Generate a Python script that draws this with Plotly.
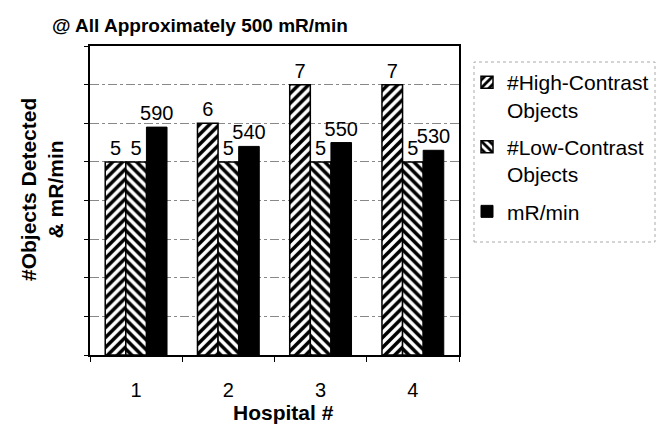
import plotly.graph_objects as go

hospitals = ["1", "2", "3", "4"]
high_contrast = [5, 6, 7, 7]
low_contrast = [5, 5, 5, 5]
mr_per_min = [590, 540, 550, 530]
mr_scaled = [v / 100 for v in mr_per_min]

FONT = "Liberation Sans, Arial, sans-serif"
W, H = 661, 424
L, R, T, B = 90, 459, 46, 355
pw, ph = R - L, B - T

def px_x(x):
    return (x - L) / pw

def px_y(y):
    return (B - y) / ph

label_font = dict(size=20, color="black", family=FONT)

fig = go.Figure()
fig.add_trace(go.Bar(
    name="#High-Contrast<br>Objects", x=hospitals, y=high_contrast, legendgroup="a",
    text=[str(v) for v in high_contrast], textposition="outside", constraintext="none",
    marker=dict(color="white", line=dict(color="black", width=1.5),
                pattern=dict(shape="/", fgcolor="black", bgcolor="white", fgopacity=1,
                             size=7, solidity=0.5)),
    textfont=label_font, cliponaxis=False,
))
fig.add_trace(go.Bar(
    name="#Low-Contrast<br>Objects", x=hospitals, y=low_contrast, legendgroup="b",
    text=[str(v) for v in low_contrast], textposition="outside", constraintext="none",
    marker=dict(color="white", line=dict(color="black", width=1.5),
                pattern=dict(shape="\\", fgcolor="black", bgcolor="white", fgopacity=1,
                             size=7, solidity=0.5)),
    textfont=label_font, cliponaxis=False,
))
fig.add_trace(go.Bar(
    name="mR/min", x=hospitals, y=mr_scaled, legendgroup="c",
    text=[str(v) for v in mr_per_min], textposition="outside", constraintext="none",
    marker=dict(color="black", line=dict(color="black", width=1)),
    textfont=label_font, cliponaxis=False,
))

fig.update_layout(
    width=W, height=H,
    margin=dict(l=L, r=W - R, t=T, b=H - B, autoexpand=False),
    paper_bgcolor="white", plot_bgcolor="white",
    barmode="group", bargap=0.33, bargroupgap=0,
    font=dict(family=FONT, color="black"),
    showlegend=True,
    legend=dict(
        x=px_x(467), y=px_y(62), xanchor="left", yanchor="top",
        font=dict(size=21, family=FONT, color="black"),
        borderwidth=0, bgcolor="rgba(0,0,0,0)", valign="top",
        tracegroupgap=7,
    ),
    xaxis=dict(
        type="category", showline=True, linecolor="black", linewidth=1.5, mirror=True,
        ticks="outside", ticklen=5, tickcolor="black", tickson="boundaries",
        tickfont=dict(size=20, family=FONT, color="black"), ticklabelstandoff=16,
        showgrid=False,
    ),
    yaxis=dict(
        range=[0, 8], dtick=1, showticklabels=False,
        showline=True, linecolor="black", linewidth=1.5, mirror=True,
        ticks="outside", ticklen=4, tickcolor="black",
        showgrid=True, gridcolor="#888888", gridwidth=1, griddash="dashdot",
        zeroline=False,
    ),
    shapes=[
        dict(type="rect", xref="paper", yref="paper",
             x0=px_x(474), x1=px_x(655), y0=px_y(242), y1=px_y(62),
             line=dict(color="#aaaaaa", width=1, dash="dot"), layer="below"),
    ],
    annotations=[
        dict(text="<b>@ All Approximately 500 mR/min</b>", xref="paper", yref="paper",
             x=px_x(50), y=px_y(25), xanchor="left", yanchor="middle",
             showarrow=False, font=dict(size=19, family=FONT, color="black")),
        dict(text="<b>#Objects Detected<br>& mR/min</b>", xref="paper", yref="paper",
             x=px_x(42), y=px_y(189), xanchor="center", yanchor="middle",
             textangle=-90, showarrow=False,
             font=dict(size=21, family=FONT, color="black")),
        dict(text="<b>Hospital #</b>", xref="paper", yref="paper",
             x=px_x(283), y=px_y(412), xanchor="center", yanchor="middle",
             showarrow=False, font=dict(size=21, family=FONT, color="black")),
    ],
)

fig.write_html("out.html")
